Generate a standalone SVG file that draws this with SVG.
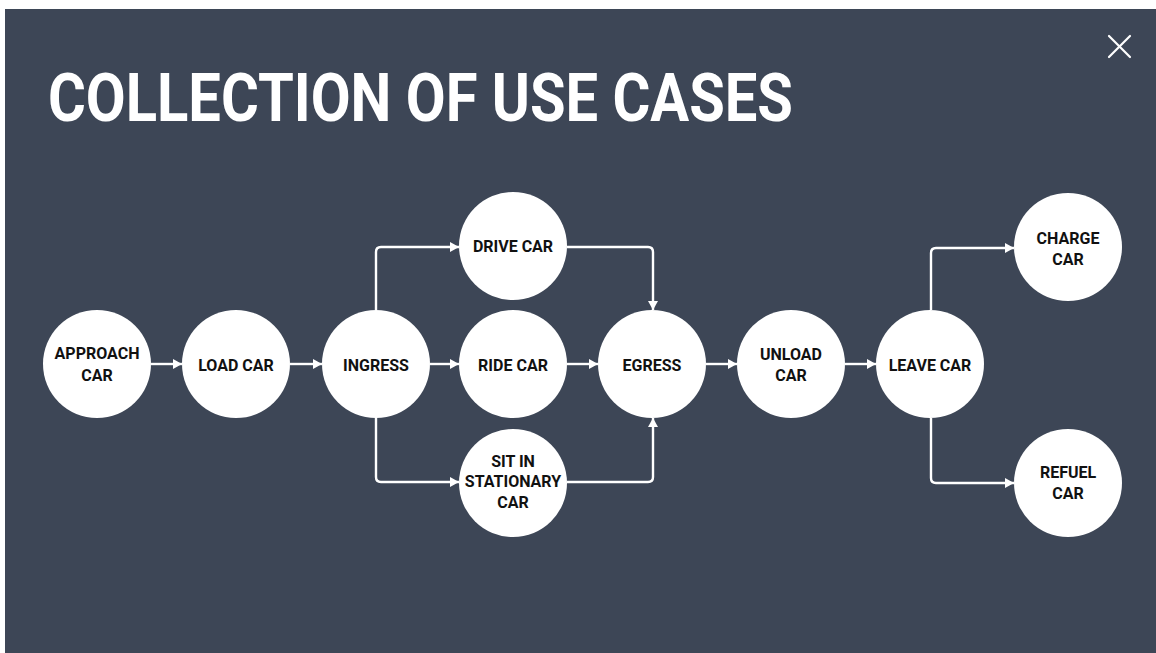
<svg xmlns="http://www.w3.org/2000/svg" width="1156" height="653" viewBox="0 0 1156 653">
  <style>
    .node circle { fill: #ffffff; }
    .node text { font-family: Roboto, "Liberation Sans", Arial, sans-serif; font-weight: 700; font-size: 16px; fill: #111111; text-anchor: middle; }
    .edge { fill: none; stroke: #ffffff; stroke-width: 2.4; }
    .title { font-family: Roboto, "Liberation Sans", Arial, sans-serif; font-weight: 700; font-size: 66px; fill: #ffffff; }
  </style>
  <defs>
    <marker id="arrow" markerUnits="userSpaceOnUse" markerWidth="10" markerHeight="11" refX="9" refY="5.5" orient="auto">
      <path d="M0,0.5 L9,5.5 L0,10.5 Z" fill="#ffffff"/>
    </marker>
  </defs>

  <!-- page -->
  <rect x="0" y="0" width="1156" height="653" fill="#ffffff"/>
  <rect x="5" y="9" width="1151" height="644" fill="#3d4656"/>

  <text class="title" x="48" y="121" textLength="745" lengthAdjust="spacingAndGlyphs">COLLECTION OF USE CASES</text>

  <!-- close icon -->
  <g id="close" stroke="#ffffff" stroke-width="2.2" stroke-linecap="round">
    <line x1="1109" y1="36" x2="1130" y2="57"/>
    <line x1="1130" y1="36" x2="1109" y2="57"/>
  </g>

  <!-- connectors -->
  <g id="connectors" marker-end="url(#arrow)">
    <path class="edge" d="M151,364 H182" marker-end="url(#arrow)"/>
    <path class="edge" d="M290,364 H322" marker-end="url(#arrow)"/>
    <path class="edge" d="M430,364 H459" marker-end="url(#arrow)"/>
    <path class="edge" d="M567,364 H598" marker-end="url(#arrow)"/>
    <path class="edge" d="M706,364 H737" marker-end="url(#arrow)"/>
    <path class="edge" d="M845,364 H876" marker-end="url(#arrow)"/>
    <path class="edge" d="M376,310 V252 Q376,247 381,247 H459" marker-end="url(#arrow)"/>
    <path class="edge" d="M567,247 H648 Q653,247 653,252 V310" marker-end="url(#arrow)"/>
    <path class="edge" d="M376,418 V477 Q376,482 381,482 H459" marker-end="url(#arrow)"/>
    <path class="edge" d="M567,482 H648 Q653,482 653,477 V418" marker-end="url(#arrow)"/>
    <path class="edge" d="M931,310 V253 Q931,248 936,248 H1014" marker-end="url(#arrow)"/>
    <path class="edge" d="M931,418 V478 Q931,483 936,483 H1014" marker-end="url(#arrow)"/>
  </g>

  <!-- nodes -->
  <g id="approach-car" class="node">
    <circle cx="97" cy="364" r="54"/>
    <text x="97" y="359">APPROACH</text>
    <text x="97" y="381">CAR</text>
  </g>
  <g id="load-car" class="node">
    <circle cx="236" cy="364" r="54"/>
    <text x="236" y="370.5">LOAD CAR</text>
  </g>
  <g id="ingress" class="node">
    <circle cx="376" cy="364" r="54"/>
    <text x="376" y="370.5">INGRESS</text>
  </g>
  <g id="drive-car" class="node">
    <circle cx="513" cy="246" r="54"/>
    <text x="513" y="251.5">DRIVE CAR</text>
  </g>
  <g id="ride-car" class="node">
    <circle cx="513" cy="364" r="54"/>
    <text x="513" y="370.5">RIDE CAR</text>
  </g>
  <g id="sit-in-stationary-car" class="node">
    <circle cx="513" cy="483" r="54"/>
    <text x="513" y="466.5">SIT IN</text>
    <text x="513" y="487">STATIONARY</text>
    <text x="513" y="508">CAR</text>
  </g>
  <g id="egress" class="node">
    <circle cx="652" cy="364" r="54"/>
    <text x="652" y="370.5">EGRESS</text>
  </g>
  <g id="unload-car" class="node">
    <circle cx="791" cy="364" r="54"/>
    <text x="791" y="360">UNLOAD</text>
    <text x="791" y="381">CAR</text>
  </g>
  <g id="leave-car" class="node">
    <circle cx="930" cy="364" r="54"/>
    <text x="930" y="370.5">LEAVE CAR</text>
  </g>
  <g id="charge-car" class="node">
    <circle cx="1068" cy="247" r="54"/>
    <text x="1068" y="243.5">CHARGE</text>
    <text x="1068" y="264.5">CAR</text>
  </g>
  <g id="refuel-car" class="node">
    <circle cx="1068" cy="483" r="54"/>
    <text x="1068" y="478">REFUEL</text>
    <text x="1068" y="499">CAR</text>
  </g>
</svg>
